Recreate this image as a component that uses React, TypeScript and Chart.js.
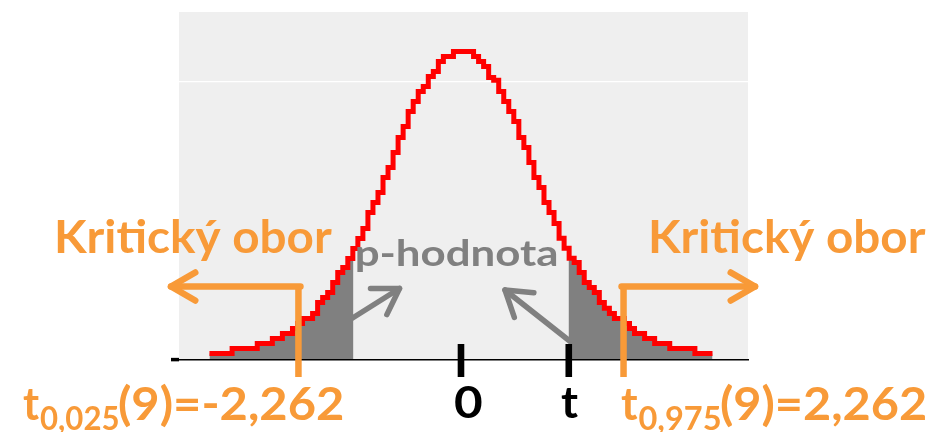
import React, { useEffect, useRef } from 'react';
import { Chart, registerables } from 'chart.js';

// ---- data ----
const X_VALUES = [
  -3.5, -3.43, -3.36, -3.29, -3.22, -3.15, -3.08, -3.01, -2.94, -2.87,
  -2.8, -2.73, -2.66, -2.59, -2.52, -2.45, -2.38, -2.31, -2.24, -2.17,
  -2.1, -2.03, -1.96, -1.89, -1.82, -1.75, -1.68, -1.61, -1.54, -1.47,
  -1.4, -1.33, -1.26, -1.19, -1.12, -1.05, -0.98, -0.91, -0.84, -0.77,
  -0.7, -0.63, -0.56, -0.49, -0.42, -0.35, -0.28, -0.21, -0.14, -0.07,
  0,
  0.07, 0.14, 0.21, 0.28, 0.35, 0.42, 0.49, 0.56, 0.63, 0.7,
  0.77, 0.84, 0.91, 0.98, 1.05, 1.12, 1.19, 1.26, 1.33, 1.4,
  1.47, 1.54, 1.61, 1.68, 1.75, 1.82, 1.89, 1.96, 2.03, 2.1,
  2.17, 2.24, 2.31, 2.38, 2.45, 2.52, 2.59, 2.66, 2.73, 2.8,
  2.87, 2.94, 3.01, 3.08, 3.15, 3.22, 3.29, 3.36, 3.43, 3.5,
];

const DENSITY = [
  0.0082, 0.0082, 0.0082, 0.0082, 0.0082, 0.0145, 0.0145, 0.0145, 0.0145, 0.0145,
  0.0207, 0.0207, 0.0207, 0.027, 0.027, 0.0333, 0.0333, 0.0396, 0.0459, 0.0522,
  0.0522, 0.0585, 0.0723, 0.0786, 0.0849, 0.0974, 0.11, 0.1163, 0.1276, 0.1402,
  0.1528, 0.1653, 0.1854, 0.198, 0.2106, 0.2294, 0.242, 0.2609, 0.2797, 0.2936,
  0.3124, 0.325, 0.3376, 0.3438, 0.3564, 0.3627, 0.3753, 0.3816, 0.3816, 0.3878,
  0.3878,
  0.3878, 0.3878, 0.3816, 0.3753, 0.369, 0.3552, 0.3518, 0.3376, 0.325, 0.3124,
  0.2998, 0.2797, 0.2672, 0.2483, 0.2294, 0.2169, 0.198, 0.1854, 0.1716, 0.1531,
  0.1406, 0.128, 0.1226, 0.11, 0.0974, 0.0911, 0.0849, 0.0723, 0.0651, 0.0585,
  0.0522, 0.0522, 0.0459, 0.0396, 0.0333, 0.0333, 0.027, 0.027, 0.0207, 0.0207,
  0.0207, 0.0145, 0.0145, 0.0145, 0.0145, 0.0145, 0.0082, 0.0082, 0.0082, 0.0082,
];

const T_STAT = 1.5;
const T_CRIT = 2.262;
const X_MIN = -3.924;
const X_MAX = 3.994;
const Y_MAX = 0.4375;
const Y_GRID = 0.35;

const LABEL_KRIT = 'Kritický obor';
const LABEL_P = 'p-hodnota';
const LABEL_ZERO = '0';
const LABEL_T = 't';
const LOW_SUB = '0,025';
const LOW_MAIN = '(9)=-2,262';
const HIGH_SUB = '0,975';
const HIGH_MAIN = '(9)=2,262';

const ORANGE = '#f89a38';
const GRAY = '#808080';
const RED = '#ff0000';
const PLOT_BG = '#efefef';
const FONT = 'Lato, "Open Sans", "DejaVu Sans", sans-serif';

// clip the gray tail dataset to |x| >= T_STAT (registered before Filler so the fill is clipped)
const tailClip = {
  id: 'tailClip',
  beforeDatasetDraw(chart: any, args: any) {
    if (args.index !== 1) return;
    const { ctx, chartArea: a } = chart;
    const xs = chart.scales.x;
    const l = xs.getPixelForValue(-T_STAT);
    const r = xs.getPixelForValue(T_STAT);
    ctx.save();
    ctx.beginPath();
    ctx.rect(a.left - 5, a.top, l - a.left + 5, a.bottom - a.top);
    ctx.rect(r, a.top, a.right - r + 5, a.bottom - a.top);
    ctx.clip();
  },
  afterDatasetDraw(chart: any, args: any) {
    if (args.index !== 1) return;
    chart.ctx.restore();
  },
};

Chart.register(tailClip as any, ...registerables);

function fitText(ctx: CanvasRenderingContext2D, text: string, left: number, right: number,
  baseline: number, size: number, color: string) {
  ctx.save();
  ctx.font = `bold ${size}px ${FONT}`;
  ctx.textAlign = 'left';
  ctx.textBaseline = 'alphabetic';
  const m = ctx.measureText(text);
  const ink = m.actualBoundingBoxLeft + m.actualBoundingBoxRight;
  const sx = (right - left) / ink;
  ctx.translate(left + m.actualBoundingBoxLeft * sx, baseline);
  ctx.scale(sx, 1);
  ctx.fillStyle = color;
  ctx.fillText(text, 0, 0);
  ctx.restore();
}

function openArrow(ctx: CanvasRenderingContext2D, x1: number, y1: number, x2: number, y2: number,
  color: string, width: number, headLen: number, headDeg: number) {
  const ang = Math.atan2(y1 - y2, x1 - x2);
  const a = (headDeg * Math.PI) / 180;
  ctx.save();
  ctx.strokeStyle = color;
  ctx.lineWidth = width;
  ctx.lineCap = 'round';
  ctx.lineJoin = 'round';
  ctx.beginPath();
  ctx.moveTo(x1, y1);
  ctx.lineTo(x2, y2);
  ctx.stroke();
  ctx.beginPath();
  ctx.moveTo(x2 + headLen * Math.cos(ang + a), y2 + headLen * Math.sin(ang + a));
  ctx.lineTo(x2, y2);
  ctx.lineTo(x2 + headLen * Math.cos(ang - a), y2 + headLen * Math.sin(ang - a));
  ctx.stroke();
  ctx.restore();
}

const plotBg = {
  id: 'plotBg',
  beforeDraw(chart: any) {
    const { ctx, chartArea: a } = chart;
    ctx.save();
    ctx.fillStyle = PLOT_BG;
    ctx.fillRect(a.left, a.top, a.right - a.left, a.bottom - a.top);
    ctx.restore();
  },
};

const overlay = {
  id: 'overlay',
  afterDraw(chart: any) {
    const ctx: CanvasRenderingContext2D = chart.ctx;
    const xs = chart.scales.x;
    const xl = xs.getPixelForValue(-T_CRIT);
    const xr = xs.getPixelForValue(T_CRIT);
    const x0 = xs.getPixelForValue(0);
    const xt = xs.getPixelForValue(T_STAT);

    // gray arrows
    openArrow(ctx, 343, 324, 399.5, 288.5, GRAY, 5.5, 29, 32);
    openArrow(ctx, 576, 346, 505, 290, GRAY, 5.5, 29, 33);

    // orange critical lines
    ctx.save();
    ctx.strokeStyle = ORANGE;
    ctx.lineWidth = 6.5;
    ctx.lineCap = 'butt';
    ctx.beginPath();
    ctx.moveTo(xl, 287);
    ctx.lineTo(xl, 377);
    ctx.moveTo(xr, 287);
    ctx.lineTo(xr, 377);
    ctx.stroke();
    ctx.restore();
    openArrow(ctx, xl + 2, 286.5, 171, 286.5, ORANGE, 6.5, 28, 30);
    openArrow(ctx, xr - 2, 286.5, 755, 286.5, ORANGE, 6.5, 28, 30);

    // black ticks at 0 and t
    ctx.save();
    ctx.fillStyle = '#000';
    ctx.fillRect(x0 - 3.3, 344, 6.6, 33);
    ctx.fillRect(xt - 3.3, 344, 6.6, 33);
    ctx.restore();

    // texts
    fitText(ctx, LABEL_KRIT, 57, 331.5, 253, 46, ORANGE);
    fitText(ctx, LABEL_KRIT, 651, 925.3, 253, 46, ORANGE);
    fitText(ctx, LABEL_P, 357, 556.5, 266, 37, GRAY);

    fitText(ctx, LABEL_T, 23, 39, 420, 46, ORANGE);
    fitText(ctx, LOW_SUB, 40, 118, 430, 32, ORANGE);
    fitText(ctx, LOW_MAIN, 119, 342.5, 420, 46, ORANGE);

    fitText(ctx, LABEL_T, 621, 637.5, 420, 46, ORANGE);
    fitText(ctx, HIGH_SUB, 638.5, 720, 430, 32, ORANGE);
    fitText(ctx, HIGH_MAIN, 721, 925.3, 420, 46, ORANGE);

    fitText(ctx, LABEL_ZERO, 455, 482, 418, 44, '#000');
    fitText(ctx, LABEL_T, 561, 578.7, 418, 44, '#000');
  },
};

export default function App() {
  const ref = useRef<HTMLCanvasElement>(null);

  useEffect(() => {
    const canvas = ref.current;
    if (!canvas) return;
    const points = X_VALUES.map((x, i) => ({ x, y: DENSITY[i] }));
    const chart = new Chart(canvas, {
      type: 'line',
      data: {
        datasets: [
          {
            label: 'hustota t(9)',
            data: points,
            stepped: 'middle',
            borderColor: RED,
            borderWidth: 5,
            borderCapStyle: 'butt',
            borderJoinStyle: 'miter',
            pointRadius: 0,
            fill: false,
            order: 0,
          } as any,
          {
            label: 'p-hodnota',
            data: points,
            stepped: 'middle',
            borderColor: 'rgba(0,0,0,0)',
            borderWidth: 0,
            backgroundColor: GRAY,
            pointRadius: 0,
            fill: 'origin',
            order: 1,
          } as any,
        ],
      },
      options: {
        animation: false,
        responsive: false,
        devicePixelRatio: 1,
        events: [],
        layout: { padding: { top: 12, right: 197, left: 0, bottom: 0 } },
        plugins: {
          legend: { display: false },
          tooltip: { enabled: false },
          filler: { drawTime: 'beforeDatasetDraw' },
        } as any,
        scales: {
          x: {
            type: 'linear',
            min: X_MIN,
            max: X_MAX,
            ticks: { display: false },
            grid: { display: false },
            border: { display: true, color: '#000', width: 1.5, z: 1 },
            afterFit: (s: any) => { s.height = 72; },
          },
          y: {
            type: 'linear',
            min: 0,
            max: Y_MAX,
            ticks: { display: false, stepSize: Y_GRID },
            border: { display: false },
            grid: {
              drawTicks: true,
              tickLength: 8,
              tickWidth: 3.5,
              lineWidth: 1.2,
              color: (c: any) => (c.tick && Math.abs(c.tick.value - Y_GRID) < 1e-6 ? '#ffffff' : 'rgba(0,0,0,0)'),
              tickColor: (c: any) => (c.tick && Math.abs(c.tick.value) < 1e-9 ? '#000000' : 'rgba(0,0,0,0)'),
            },
            afterFit: (s: any) => { s.width = 179; },
          },
        },
      } as any,
      plugins: [plotBg, overlay],
    });
    return () => chart.destroy();
  }, []);

  return (
    <div style={{ position: 'fixed', left: 0, top: 0, width: 945, height: 432, background: '#ffffff' }}>
      <canvas ref={ref} width={945} height={432} style={{ display: 'block', width: 945, height: 432 }} />
    </div>
  );
}
